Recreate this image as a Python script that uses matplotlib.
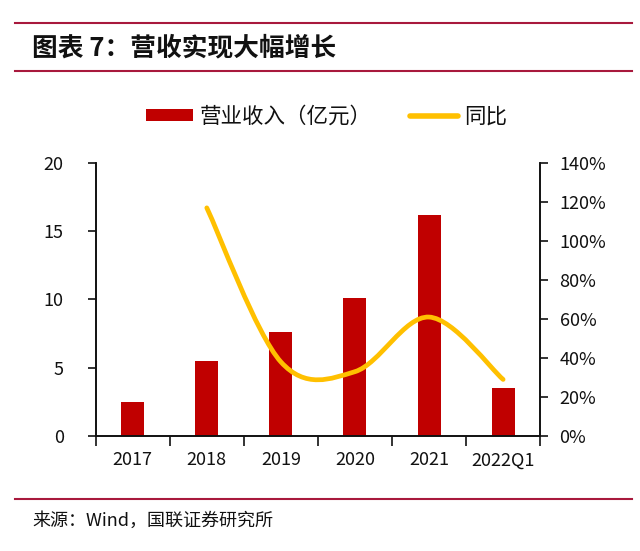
import matplotlib
matplotlib.use("Agg")
import matplotlib.pyplot as plt
from matplotlib.path import Path
from matplotlib.patches import PathPatch, Patch
from matplotlib.lines import Line2D
from matplotlib.ticker import FixedLocator, FuncFormatter
import numpy as np

plt.rcParams['font.family'] = ['Noto Sans CJK SC', 'DejaVu Sans']

categories = ["2017", "2018", "2019", "2020", "2021", "2022Q1"]
revenue = [2.5, 5.5, 7.6, 10.1, 16.2, 3.5]          # 营业收入（亿元）
yoy_categories = ["2018", "2019", "2020", "2021", "2022Q1"]
yoy = [117, 38, 33, 61, 29]                           # 同比 (%)
left_ticks = [0, 5, 10, 15, 20]
right_ticks = [0, 20, 40, 60, 80, 100, 120, 140]

BAR = "#C00000"
LINE = "#FFC000"
RULE = "#A8193D"
TXT = "#111111"

fig = plt.figure(figsize=(6.4, 5.51), dpi=100)
ax = fig.add_axes([0.1495, 0.2087, 0.6945, 0.4955])
x = np.arange(len(categories))
ax.bar(x, revenue, width=0.31, color=BAR, zorder=2)
ax.set_xlim(-0.5, len(categories) - 0.5)
ax.set_ylim(0, 20)
ax.set_yticks(left_ticks)
ax.set_xticks(x)
ax.set_xticklabels(categories)
ax.xaxis.set_minor_locator(FixedLocator(np.arange(-0.5, len(categories), 1.0)))
ax.tick_params(axis='x', which='major', length=0, pad=11, labelsize=13, colors=TXT)
ax.tick_params(axis='x', which='minor', length=7, width=1.2, color=TXT, direction='out')
ax.tick_params(axis='y', length=6, width=1.2, pad=17, labelsize=13, colors=TXT)
ax.spines['top'].set_visible(False)
for s in ['left', 'bottom', 'right']:
    ax.spines[s].set_linewidth(1.2)
    ax.spines[s].set_color(TXT)

ax2 = ax.twinx()
ax2.set_ylim(0, 140)
ax2.set_yticks(right_ticks)
ax2.yaxis.set_major_formatter(FuncFormatter(lambda v, p: f"{v:.0f}%"))
ax2.tick_params(axis='y', length=6, width=1.2, pad=8, labelsize=13, colors=TXT)
ax2.spines['top'].set_visible(False)
for s in ['left', 'bottom', 'right']:
    ax2.spines[s].set_linewidth(1.2)
    ax2.spines[s].set_color(TXT)

# smoothed line (Bezier through the data points, like a spreadsheet "smooth line")
px = np.array([categories.index(c) for c in yoy_categories], dtype=float)
py = np.array(yoy, dtype=float)
pts = np.column_stack([px, py])
n = len(pts)
verts = [tuple(pts[0])]
codes = [Path.MOVETO]
for i in range(n - 1):
    p0 = pts[max(i - 1, 0)]
    p1 = pts[i]
    p2 = pts[i + 1]
    p3 = pts[min(i + 2, n - 1)]
    c1 = p1 + (p2 - p0) / 6.0
    c2 = p2 - (p3 - p1) / 6.0
    verts += [tuple(c1), tuple(c2), tuple(p2)]
    codes += [Path.CURVE4] * 3
patch = PathPatch(Path(verts, codes), fill=False, edgecolor=LINE, lw=3.4,
                  capstyle='round', joinstyle='round', zorder=3)
ax2.add_patch(patch)

handles = [Patch(facecolor=BAR, edgecolor='none'),
           Line2D([], [], color=LINE, lw=4, solid_capstyle='round')]
fig.legend(handles, ["营业收入（亿元）", "同比"], loc='center',
           bbox_to_anchor=(0.51, 0.788), ncol=2, frameon=False, fontsize=15.5,
           handlelength=2.2, handleheight=0.45, handletextpad=0.3,
           columnspacing=1.8, labelcolor=TXT)

# header / footer rules
for yy in [1 - 23 / 551, 1 - 71 / 551, 1 - 499 / 551]:
    fig.add_artist(Line2D([0.023, 0.9875], [yy, yy], transform=fig.transFigure,
                          color=RULE, lw=1.5))

fig.text(0.05, 1 - 48 / 551, "图表 7：营收实现大幅增长", fontsize=18.5,
         fontweight='bold', style='italic', va='center', ha='left', color=TXT)
fig.text(0.05, 1 - 521 / 551, "来源：Wind，国联证券研究所", fontsize=13,
         va='center', ha='left', color=TXT)

fig.savefig("out.png", dpi=100)
